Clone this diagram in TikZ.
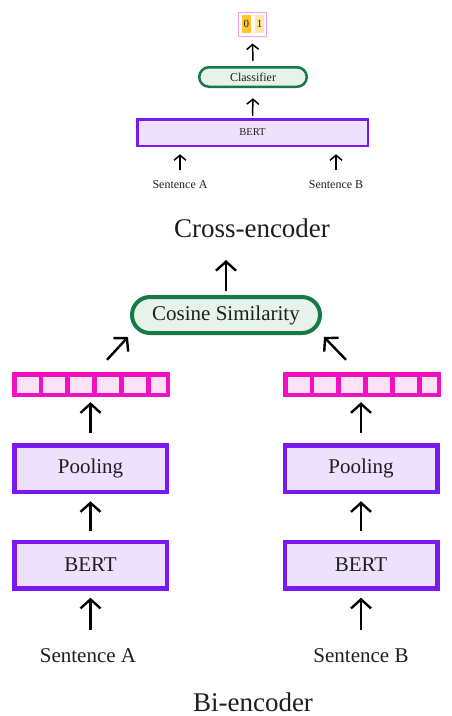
\documentclass[tikz,border=0pt]{standalone}
\usepackage{fontspec}
\setmainfont{Liberation Serif}
\usetikzlibrary{arrows.meta,calc}
\definecolor{purp}{HTML}{7A18F0}
\definecolor{purpfill}{HTML}{EEE1FD}
\definecolor{grn}{HTML}{157A45}
\definecolor{grnfill}{HTML}{E7F2EB}
\definecolor{mag}{HTML}{F210C4}
\definecolor{magfill}{HTML}{FDE1F6}
\definecolor{outpink}{HTML}{F49CEE}
\definecolor{yel}{HTML}{FFC72C}
\definecolor{yellt}{HTML}{FFE8A6}
\definecolor{ink}{HTML}{1E1E1E}
\newcommand\fsz[1]{\fontsize{#1}{#1}\selectfont}
\begin{document}
\begin{tikzpicture}[x=1pt,y=-1pt,
  bigbox/.style={draw=purp,fill=purpfill,line width=4.5pt,minimum width=152.5pt,minimum height=46.5pt,inner sep=0pt,font=\fsz{21},text=ink},
  topbert/.style={draw=purp,fill=purpfill,line width=2.5pt,minimum width=230.5pt,minimum height=26.5pt,inner sep=0pt,font=\fsz{10.5},text=ink},
  clsbox/.style={draw=grn,fill=grnfill,line width=2.5pt,minimum width=107.5pt,minimum height=19.5pt,rounded corners=9.75pt,inner sep=0pt,font=\fsz{12},text=ink},
  cosbox/.style={draw=grn,fill=grnfill,line width=4pt,minimum width=188pt,minimum height=36pt,rounded corners=18pt,inner sep=0pt,font=\fsz{21},text=ink},
  vecbox/.style={fill=mag,minimum width=158pt,minimum height=25pt,inner sep=0pt},
  cell/.style={fill=magfill},
  outbox/.style={draw=outpink,line width=1pt,minimum width=28pt,minimum height=24pt,inner sep=0pt},
  digit/.style={minimum width=9.3pt,minimum height=18pt,inner sep=0pt,font=\fsz{11},text=ink},
  bigtxt/.style={inner sep=0pt,font=\fsz{21},text=ink},
  smalltxt/.style={inner sep=0pt,font=\fsz{12},text=ink},
  title/.style={inner sep=0pt,font=\fsz{27},text=ink,anchor=base},
  barr/.style={-{Straight Barb[length=9pt,width=20pt]},line width=2.4pt,draw=black},
  sarr/.style={-{Straight Barb[length=5pt,width=12pt]},line width=1.5pt,draw=black}
]
\useasboundingbox (0,0) rectangle (452,716);

% ---------- Cross-encoder ----------
\node[outbox] (out) at (252.5,24.5) {};
\node[digit,fill=yel] (d0) at (246.3,24) {0};
\node[digit,fill=yellt] (d1) at (259.5,24) {1};
\node[clsbox] (cls) at (253,77) {Classifier};
\node[topbert] (bertT) at (252.5,132.5) {BERT};
\node[smalltxt] (sAt) at (180,185) {Sentence A};
\node[smalltxt] (sBt) at (336,185) {Sentence B};
\node[title] (cross) at (252,237) {Cross-encoder};

\draw[sarr] ([yshift=5.25pt]cls.north) -- ([yshift=-6.5pt]out.south);
\draw[sarr] ([yshift=2.25pt]bertT.north) -- ([yshift=-10.25pt]cls.south);
\draw[sarr] ([yshift=11pt]sAt.north) -- ($(sAt.north |- bertT.south)+(0,7.25)$);
\draw[sarr] ([yshift=11pt]sBt.north) -- ($(sBt.north |- bertT.south)+(0,7.25)$);

% ---------- Bi-encoder ----------
\node[cosbox] (cos) at (226,315) {Cosine Similarity};
\coordinate (cosout) at (226,260);

\node[vecbox] (vecA) at (91,384.5) {};
\node[vecbox] (vecB) at (362,384.5) {};
\foreach \v in {vecA,vecB}{
  \begin{scope}[shift={(\v.north west)}]
    \foreach \i in {0,...,4}
      \fill[cell] ({4.7+26.8*\i},4.7) rectangle ++(22,16);
    \fill[cell] (138.7,4.7) rectangle ++(15,16);
  \end{scope}
}

\node[bigbox] (poolA) at (90.5,468.5) {Pooling};
\node[bigbox] (poolB) at (361,468.5) {Pooling};
\node[bigbox] (bertA) at (90.5,565) {BERT};
\node[bigbox] (bertB) at (361,565) {BERT};
\node[bigtxt] (sA) at (88,655.5) {Sentence A};
\node[bigtxt] (sB) at (361,655.5) {Sentence B};
\node[title] (bi) at (253,711) {Bi-encoder};

\draw[barr] ([yshift=4pt]cos.north) -- (cosout);
\draw[barr] ([xshift=16pt,yshift=12pt]vecA.north) -- ([xshift=-2pt,yshift=-2pt]cos.south west);
\draw[barr] ([xshift=-16pt,yshift=12pt]vecB.north) -- ([xshift=2pt,yshift=-2pt]cos.south east);
\draw[barr] ([yshift=10.25pt]poolA.north) -- ($(poolA.north |- vecA.south)+(0,5)$);
\draw[barr] ([yshift=10.25pt]poolB.north) -- ($(poolB.north |- vecB.south)+(0,5)$);
\draw[barr] ([yshift=8.25pt]bertA.north) -- ([yshift=-7.25pt]poolA.south);
\draw[barr] ([yshift=8.25pt]bertB.north) -- ([yshift=-7.25pt]poolB.south);
\draw[barr] ($(bertA.south |- sA.north)+(0,-18.4)$) -- ([yshift=-7.25pt]bertA.south);
\draw[barr] ($(bertB.south |- sB.north)+(0,-18.4)$) -- ([yshift=-7.25pt]bertB.south);
\end{tikzpicture}
\end{document}
